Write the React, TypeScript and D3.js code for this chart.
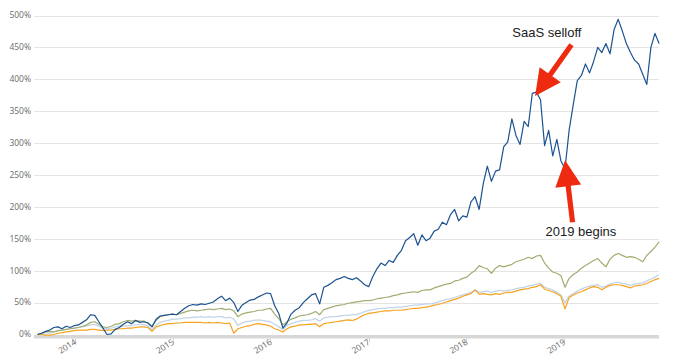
import { useEffect, useRef } from "react";
import * as d3 from "d3";

// half-month samples starting mid Aug 2013 (% return)
const startDate = new Date(2013, 7, 14);
const stepDays = 15.27;

const yTicks = [0, 50, 100, 150, 200, 250, 300, 350, 400, 450, 500];
const yearTicks = [2014, 2015, 2016, 2017, 2018, 2019];

const blue = [
  0, 2, 5, 7, 11, 12, 9, 13, 11, 14, 15, 19, 23, 31, 30, 20, 10, 0, 1, 8,
  11, 16, 20, 17, 22, 19, 20, 18, 12, 24, 29, 30, 31, 32, 31, 36, 41, 45, 47, 46,
  48, 47, 49, 51, 56, 60, 53, 57, 50, 36, 46, 50, 54, 55, 59, 62, 65, 64, 45, 33,
  10, 18, 32, 38, 42, 50, 56, 62, 64, 48, 74, 77, 81, 86, 88, 91, 88, 86, 89, 84,
  78, 75, 91, 103, 112, 108, 116, 113, 124, 132, 147, 152, 158, 140, 156, 147, 151, 162, 165, 176,
  172, 188, 196, 178, 186, 184, 208, 216, 196, 236, 264, 240, 256, 258, 294, 302, 338, 312, 298, 334,
  326, 378, 380, 368, 296, 320, 280, 306, 272, 260, 320, 360, 398, 406, 424, 410, 428, 450, 442, 456,
  440, 478, 494, 476, 456, 442, 430, 424, 408, 392, 450, 472, 456,
];

const green = [
  0, 2, 4, 5, 4, 6, 7, 8, 9, 10, 11, 13, 15, 19, 20, 16, 12, 11, 13, 16,
  17, 20, 22, 21, 22, 21, 21, 18, 13, 22, 28, 30, 31, 32, 31, 33, 35, 37, 38, 37,
  38, 39, 40, 39, 40, 41, 39, 40, 37, 28, 32, 34, 35, 36, 38, 38, 40, 41, 32, 25,
  15, 20, 24, 26, 29, 30, 31, 33, 36, 31, 39, 41, 43, 45, 46, 47, 49, 50, 51, 52,
  53, 53, 54, 56, 57, 58, 59, 61, 62, 64, 65, 66, 67, 66, 69, 70, 70, 73, 75, 77,
  79, 80, 84, 85, 88, 90, 96, 100, 108, 105, 103, 96, 104, 108, 106, 108, 110, 114, 116, 118,
  121, 119, 123, 124, 112, 104, 98, 96, 92, 74, 88, 94, 98, 104, 108, 112, 116, 119, 112, 106,
  118, 124, 127, 124, 121, 122, 121, 118, 114, 124, 130, 137, 145,
];

const lightBlue = [
  0, 1, 3, 2, 4, 6, 7, 8, 9, 10, 11, 12, 13, 15, 16, 13, 10, 9, 10, 12,
  13, 13, 14, 14, 15, 16, 16, 13, 8, 15, 19, 21, 22, 24, 24, 25, 26, 26, 27, 27,
  28, 27, 28, 27, 28, 28, 26, 27, 24, 14, 18, 20, 21, 22, 23, 22, 21, 20, 16, 12,
  8, 14, 17, 19, 21, 22, 22, 23, 25, 21, 26, 27, 28, 28, 29, 30, 30, 31, 31, 33,
  36, 38, 39, 40, 41, 41, 42, 42, 43, 43, 44, 45, 46, 46, 47, 48, 48, 49, 51, 53,
  55, 56, 58, 60, 62, 64, 66, 70, 66, 67, 68, 66, 68, 69, 68, 69, 70, 72, 73, 74,
  76, 77, 79, 80, 74, 72, 70, 66, 62, 50, 60, 64, 68, 71, 74, 76, 77, 78, 74, 76,
  79, 81, 82, 80, 79, 77, 79, 80, 81, 84, 87, 90, 94,
];

const orange = [
  0, 0, -1, -1, 0, 2, 3, 4, 5, 6, 7, 7, 7, 8, 8, 7, 6, 7, 7, 8,
  9, 9, 10, 10, 11, 12, 12, 11, 5, 12, 14, 16, 17, 17, 18, 18, 19, 19, 19, 19,
  19, 18, 19, 18, 19, 18, 17, 18, 2, 9, 11, 13, 14, 16, 17, 16, 15, 13, 9, 7,
  4, 9, 12, 13, 15, 15, 16, 16, 17, 12, 17, 18, 19, 20, 21, 22, 23, 22, 24, 28,
  31, 33, 34, 35, 36, 37, 37, 38, 38, 38, 39, 40, 41, 41, 42, 43, 44, 46, 47, 49,
  51, 53, 55, 57, 60, 62, 64, 70, 63, 64, 63, 62, 64, 63, 65, 66, 66, 68, 70, 71,
  72, 74, 75, 78, 71, 69, 67, 64, 60, 40, 58, 62, 65, 67, 70, 73, 75, 74, 70, 74,
  77, 78, 78, 77, 75, 73, 76, 77, 78, 80, 83, 86, 88,
];

const series = [
  { name: "lightBlue", values: lightBlue, color: "#c3d5e8", width: 1.3 },
  { name: "green", values: green, color: "#9fae70", width: 1.2 },
  { name: "orange", values: orange, color: "#f6a420", width: 1.2 },
  { name: "blue", values: blue, color: "#1c5390", width: 1.2 },
];

const annotations = [
  {
    text: "SaaS selloff",
    at: [new Date(2018, 9, 29), 467],
    tail: [new Date(2019, 0, 29), 454],
    tip: [new Date(2018, 8, 15), 374],
  },
  {
    text: "2019 begins",
    at: [new Date(2019, 2, 5), 154],
    tail: [new Date(2019, 1, 2), 176],
    tip: [new Date(2019, 0, 5), 273],
  },
];

const width = 680;
const height = 363;
const plotLeft = 34;
const plotRight = 659;

const App = () => {
  const svgRef = useRef(null);

  useEffect(() => {
    const svg = d3.select(svgRef.current);
    svg.selectAll("*").remove();

    const x = d3
      .scaleTime()
      .domain([new Date(2014, 0, 1), new Date(2019, 0, 1)])
      .range([75, 564]);
    const y = d3.scaleLinear().domain([0, 500]).range([334.5, 15.5]);

    const dateAt = (i) => d3.timeHour.offset(startDate, Math.round(i * stepDays * 24));

    // gridlines + y labels
    svg
      .append("g")
      .selectAll("line")
      .data(yTicks.filter((d) => d > 0))
      .enter()
      .append("line")
      .attr("x1", plotLeft)
      .attr("x2", plotRight)
      .attr("y1", (d) => Math.round(y(d)) + 0.5)
      .attr("y2", (d) => Math.round(y(d)) + 0.5)
      .attr("stroke", "#e4e4e4")
      .attr("stroke-width", 1);

    svg
      .append("g")
      .selectAll("text")
      .data(yTicks)
      .enter()
      .append("text")
      .attr("x", 31)
      .attr("y", (d) => y(d))
      .attr("dy", "0.34em")
      .attr("text-anchor", "end")
      .attr("font-family", "Open Sans, sans-serif")
      .attr("font-size", 8.5)
      .attr("fill", "#6b6b6b")
      .text((d) => `${d}%`);

    // x axis band
    svg
      .append("rect")
      .attr("x", plotLeft)
      .attr("y", 335)
      .attr("width", plotRight - plotLeft)
      .attr("height", 3.5)
      .attr("fill", "#d7d7d7");

    const years = yearTicks.map((yr) => new Date(yr, 0, 1));
    svg
      .append("g")
      .selectAll("line")
      .data(years)
      .enter()
      .append("line")
      .attr("x1", (d) => Math.round(x(d)) + 0.5)
      .attr("x2", (d) => Math.round(x(d)) + 0.5)
      .attr("y1", 338.5)
      .attr("y2", 342)
      .attr("stroke", "#cfcfcf");

    svg
      .append("g")
      .selectAll("text")
      .data(years)
      .enter()
      .append("text")
      .attr("transform", (d) => `translate(${x(d) + 2},${343.5}) rotate(-33)`)
      .attr("text-anchor", "end")
      .attr("font-family", "Open Sans, sans-serif")
      .attr("font-size", 8.5)
      .attr("fill", "#6b6b6b")
      .text((d) => d.getFullYear());

    // series
    series.forEach((s) => {
      const line = d3
        .line()
        .x((d, i) => x(dateAt(i)))
        .y((d) => y(d));
      svg
        .append("path")
        .datum(s.values)
        .attr("d", line)
        .attr("fill", "none")
        .attr("stroke", s.color)
        .attr("stroke-width", s.width)
        .attr("stroke-linejoin", "round");
    });

    // annotations
    const arrow = (tail, tip) => {
      const [x1, y1] = [x(tail[0]), y(tail[1])];
      const [x2, y2] = [x(tip[0]), y(tip[1])];
      const len = Math.hypot(x2 - x1, y2 - y1);
      const ux = (x2 - x1) / len;
      const uy = (y2 - y1) / len;
      const nx = -uy;
      const ny = ux;
      const sw = 2.6;
      const hw = 13;
      const hl = 26;
      const bx = x2 - ux * hl;
      const by = y2 - uy * hl;
      const pts = [
        [x1 + nx * sw, y1 + ny * sw],
        [bx + nx * sw, by + ny * sw],
        [bx + nx * hw, by + ny * hw],
        [x2, y2],
        [bx - nx * hw, by - ny * hw],
        [bx - nx * sw, by - ny * sw],
        [x1 - nx * sw, y1 - ny * sw],
      ];
      return pts.map((p) => p.join(",")).join(" ");
    };

    annotations.forEach((a) => {
      svg
        .append("polygon")
        .attr("points", arrow(a.tail, a.tip))
        .attr("fill", "#ee2a10");
      svg
        .append("text")
        .attr("x", x(a.at[0]))
        .attr("y", y(a.at[1]))
        .attr("text-anchor", "middle")
        .attr("font-family", "Liberation Sans, Arial, sans-serif")
        .attr("font-size", 13)
        .attr("fill", "#1a1a1a")
        .text(a.text);
    });
  }, []);

  return (
    <svg
      ref={svgRef}
      width={width}
      height={height}
      style={{ position: "absolute", left: 0, top: 0, background: "#fff" }}
    ></svg>
  );
};

export default App;
